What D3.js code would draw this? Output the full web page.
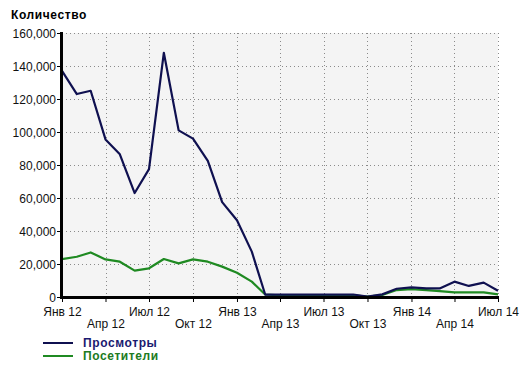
<!DOCTYPE html>
<html>
<head>
<meta charset="utf-8">
<script src="https://cdn.jsdelivr.net/npm/d3@7"></script>
<style>
  body { margin: 0; background: #fff; }
  svg text { font-family: "Liberation Sans", Arial, sans-serif; }
</style>
</head>
<body>
<svg id="chart" width="529" height="371"></svg>
<script>
// monthly data, Jan 2012 .. Jul 2014
let months = d3.range(31).map(i => new Date(2012, i, 1));
let views = [137000, 123000, 125000, 95500, 86500, 63000, 77500, 148000, 101000, 96000, 82500, 57500,
             46500, 27500, 1500, 1500, 1500, 1500, 1500, 1500, 1500, 300, 1600,
             5000, 5800, 5200, 5200, 9300, 6700, 8700, 3800];
let visitors = [23000, 24400, 27000, 22800, 21400, 16000, 17400, 23000, 20400, 22800, 21400, 18400,
                14700, 9300, 1500, 1000, 1000, 1000, 1000, 1000, 1000, 200, 1200,
                4200, 4800, 4200, 3600, 2800, 2800, 2800, 1600];
let yTicks = [0, 20000, 40000, 60000, 80000, 100000, 120000, 140000, 160000];
let xTickDates = d3.range(11).map(i => new Date(2012, i * 3, 1));
let monthNames = ["Янв", "Фев", "Мар", "Апр", "Май", "Июн", "Июл", "Авг", "Сен", "Окт", "Ноя", "Дек"];
let seriesNames = ["Просмотры", "Посетители"];
let seriesColors = ["#0f1050", "#1f8a22"];

window.addEventListener('DOMContentLoaded', () => {
    let svg = d3.select('#chart');
    let left = 62, right = 498, top = 33, bottom = 297;

    let x = d3.scaleTime().domain([months[0], months[30]]).range([left, right]);
    let y = d3.scaleLinear().domain([0, 160000]).range([bottom, top]);

    svg.append('rect')
        .attr('x', left).attr('y', top)
        .attr('width', right - left).attr('height', bottom - top)
        .attr('fill', '#f4f4f4');

    // dotted grid
    svg.append('g').selectAll('line')
        .data(yTicks.slice(1))
        .join('line')
        .attr('x1', left).attr('x2', right)
        .attr('y1', d => y(d) + 0.5).attr('y2', d => y(d) + 0.5)
        .attr('stroke', '#8a8a8a').attr('stroke-dasharray', '1,3');
    svg.append('g').selectAll('line')
        .data(xTickDates.slice(1))
        .join('line')
        .attr('x1', d => Math.round(x(d)) + 0.5).attr('x2', d => Math.round(x(d)) + 0.5)
        .attr('y1', top).attr('y2', bottom)
        .attr('stroke', '#8a8a8a').attr('stroke-dasharray', '1,3');

    // lines
    let series = [views, visitors];
    [1, 0].forEach(k => {
        let line = d3.line()
            .x((d, i) => x(months[i]))
            .y(d => y(d));
        svg.append('path')
            .attr('d', line(series[k]))
            .attr('fill', 'none')
            .attr('stroke', seriesColors[k])
            .attr('stroke-width', 2.2)
            .attr('stroke-linejoin', 'round');
    });

    // y axis
    let yAxis = d3.axisLeft(y)
        .tickValues(yTicks)
        .tickSize(4)
        .tickPadding(1)
        .tickFormat(d3.format(','));
    let gy = svg.append('g').attr('transform', `translate(${left - 1},0)`).call(yAxis);
    gy.select('.domain').remove();
    gy.selectAll('text').attr('font-size', 12).attr('fill', '#111').attr('dy', '0.36em');
    svg.append('line')
        .attr('x1', left - 0.5).attr('x2', left - 0.5)
        .attr('y1', top - 1).attr('y2', bottom + 1)
        .attr('stroke', '#000').attr('stroke-width', 3);

    // x axis
    let xAxis = d3.axisBottom(x)
        .tickValues(xTickDates)
        .tickSize(4)
        .tickFormat(d => monthNames[d.getMonth()] + ' ' + String(d.getFullYear()).slice(2));
    let gx = svg.append('g').attr('transform', `translate(0,${bottom + 1})`).call(xAxis);
    gx.select('.domain').remove();
    gx.selectAll('text')
        .attr('font-size', 12).attr('fill', '#111')
        .attr('y', (d, i) => i % 2 === 0 ? 9 : 21)
        .attr('dy', '0.71em');
    svg.append('line')
        .attr('x1', left - 2).attr('x2', right + 1)
        .attr('y1', bottom + 0.5).attr('y2', bottom + 0.5)
        .attr('stroke', '#000').attr('stroke-width', 3);

    // title
    svg.append('text')
        .attr('x', 11).attr('y', 19)
        .attr('font-size', 12).attr('font-weight', 'bold')
        .attr('letter-spacing', 0.6)
        .text('Количество');

    // legend
    let legend = svg.append('g').selectAll('g')
        .data(seriesNames)
        .join('g')
        .attr('transform', (d, i) => `translate(43,${343 + i * 13})`);
    legend.append('line')
        .attr('x1', 0).attr('x2', 30)
        .attr('stroke', (d, i) => seriesColors[i])
        .attr('stroke-width', 2);
    legend.append('text')
        .attr('x', 40).attr('dy', '0.35em')
        .attr('font-size', 12).attr('font-weight', 'bold')
        .attr('letter-spacing', 0.6)
        .attr('fill', (d, i) => i === 0 ? '#1a1a70' : '#207a22')
        .text(d => d);
});
</script>
</body>
</html>
